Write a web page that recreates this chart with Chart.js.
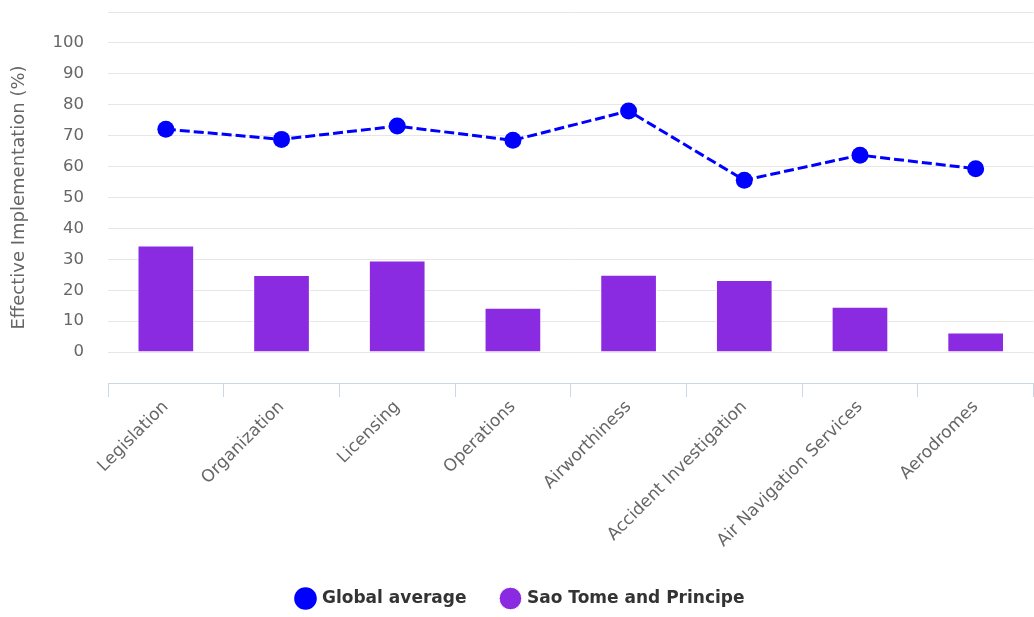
<!DOCTYPE html>
<html>
<head>
<meta charset="utf-8">
<script src="https://cdn.jsdelivr.net/npm/chart.js@4/dist/chart.umd.min.js"></script>
<style>
  html, body { margin: 0; padding: 0; background: #fff; overflow: hidden; }
  #wrap { width: 1042px; height: 617px; }
</style>
</head>
<body>
<div id="wrap"><canvas id="chart" width="1042" height="617"></canvas></div>
<script>
// audit areas and effective implementation scores (%)
const areas = [
  "Legislation", "Organization", "Licensing", "Operations",
  "Airworthiness", "Accident Investigation", "Air Navigation Services", "Aerodromes"
];
const globalAverage = [72.1, 68.8, 73.1, 68.5, 78.0, 55.6, 63.7, 59.3];
const saoTome = [34.5, 24.9, 29.6, 14.3, 25.0, 23.3, 14.7, 6.3];

const yMin = -10;
const yMax = 110;

const baseFont = "'DejaVu Sans', sans-serif";

new Chart(document.getElementById("chart"), {
  data: {
    labels: areas,
    datasets: [
      {
        type: "line",
        label: "Global average",
        data: globalAverage,
        borderColor: "#0000ff",
        backgroundColor: "#0000ff",
        borderWidth: 3,
        borderDash: [10, 4],
        pointRadius: 8.5,
        pointHoverRadius: 8.5,
        pointBorderWidth: 0,
        pointStyle: "circle",
        order: 0
      },
      {
        type: "bar",
        label: "Sao Tome and Principe",
        data: saoTome,
        backgroundColor: "#8a2be2",
        borderColor: "#ffffff",
        borderWidth: 1,
        barPercentage: 0.49,
        categoryPercentage: 1,
        pointStyle: "circle",
        order: 1
      }
    ]
  },
  options: {
    responsive: false,
    animation: false,
    layout: { padding: { top: 12, right: 0, bottom: 0, left: 0 } },
    scales: {
      x: {
        offset: true,
        grid: {
          offset: true,
          drawOnChartArea: false,
          drawTicks: true,
          tickLength: 14,
          color: "#ccd6eb"
        },
        border: { color: "#ccd6eb", width: 1 },
        ticks: {
          maxRotation: 45,
          minRotation: 45,
          padding: 0,
          color: "#666666",
          font: { family: baseFont, size: 17 }
        },
        afterFit: (scale) => {
          scale.height = 171;
          scale.paddingLeft = 0;
          scale.paddingRight = 0;
        }
      },
      y: {
        min: yMin,
        max: yMax,
        grid: { color: "#e6e6e6", drawTicks: false },
        border: { display: false },
        ticks: {
          stepSize: 10,
          padding: 24,
          color: "#666666",
          font: { family: baseFont, size: 16.5 },
          callback: (v) => (v < 0 || v > 100 ? "" : v)
        },
        title: {
          display: true,
          text: "Effective Implementation (%)",
          color: "#666666",
          font: { family: baseFont, size: 18 },
          padding: { top: 9, bottom: 0 }
        },
        afterFit: (scale) => {
          scale.width = 108;
          scale.paddingTop = 0;
          scale.paddingBottom = 0;
        }
      }
    },
    plugins: {
      tooltip: { enabled: false },
      legend: {
        position: "bottom",
        labels: {
          usePointStyle: true,
          boxWidth: 16,
          boxHeight: 16,
          padding: 36,
          color: "#333333",
          font: { family: baseFont, size: 17, weight: "bold" }
        }
      }
    }
  }
});
</script>
</body>
</html>
